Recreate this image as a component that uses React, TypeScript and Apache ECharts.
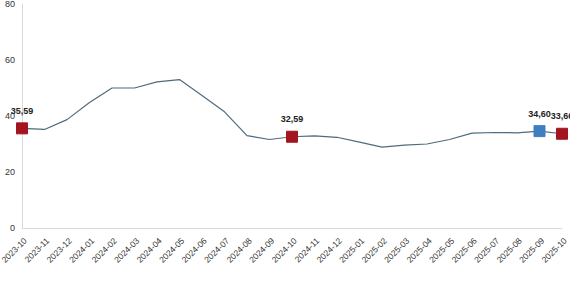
import React, { useEffect, useRef } from "react";
import * as echarts from "echarts";

const categories = [
  "2023-10", "2023-11", "2023-12", "2024-01", "2024-02", "2024-03", "2024-04", "2024-05",
  "2024-06", "2024-07", "2024-08", "2024-09", "2024-10", "2024-11", "2024-12", "2025-01",
  "2025-02", "2025-03", "2025-04", "2025-05", "2025-06", "2025-07", "2025-08", "2025-09", "2025-10",
];
const values = [
  35.59, 35.2, 38.7, 44.8, 50.0, 50.0, 52.2, 53.0,
  47.3, 41.5, 33.0, 31.6, 32.59, 32.9, 32.4, 30.7,
  28.9, 29.6, 30.0, 31.6, 33.9, 34.1, 34.0, 34.6, 33.66,
];
const yTicks = [0, 20, 40, 60, 80];
// highlighted points: index -> colour
const highlightIdx = [0, 12, 23, 24];
const highlightColors = ["#a3151f", "#a3151f", "#3f7fc0", "#a3151f"];

const fmt = (v: number) => v.toFixed(2).replace(".", ",");

export default function App() {
  const ref = useRef<HTMLDivElement>(null);
  useEffect(() => {
    if (!ref.current) return;
    const chart = echarts.init(ref.current, undefined, { renderer: "svg" });
    const data = values.map((v, i) => {
      const h = highlightIdx.indexOf(i);
      if (h < 0) return { value: v, symbol: "none" };
      return {
        value: v,
        symbol: "rect",
        symbolSize: 11,
        itemStyle: { color: highlightColors[h], borderColor: highlightColors[h] },
        label: {
          show: true,
          position: "top",
          distance: 7,
          formatter: () => fmt(v),
          fontSize: 9,
          fontWeight: "bold",
          color: "#222",
          fontFamily: "Liberation Sans, Arial, sans-serif",
        },
      };
    });
    chart.setOption({
      animation: false,
      grid: { left: 22, right: 8, top: 4, bottom: 57, outerBoundsMode: "none", containLabel: false },
      xAxis: {
        type: "category",
        data: categories,
        boundaryGap: false,
        axisLine: { lineStyle: { color: "#d9d9d9" } },
        axisTick: { show: false },
        axisLabel: {
          interval: 0,
          rotate: 45,
          fontSize: 8.5,
          color: "#333",
          margin: 8,
          verticalAlign: "top",
          fontFamily: "Liberation Sans, Arial, sans-serif",
        },
      },
      yAxis: {
        type: "value",
        min: yTicks[0],
        max: yTicks[yTicks.length - 1],
        interval: 20,
        axisLine: { show: true, lineStyle: { color: "#d9d9d9" } },
        axisTick: { show: false },
        splitLine: { show: false },
        axisLabel: {
          fontSize: 9,
          color: "#333",
          margin: 7,
          fontFamily: "Liberation Sans, Arial, sans-serif",
        },
      },
      series: [
        {
          type: "line",
          data,
          showSymbol: true,
          lineStyle: { color: "#4f6b7d", width: 1.2 },
          itemStyle: { color: "#4f6b7d" },
        },
      ],
    });
    return () => chart.dispose();
  }, []);
  return <div ref={ref} style={{ width: 570, height: 285, position: "absolute", left: 0, top: 0 }} />;
}
